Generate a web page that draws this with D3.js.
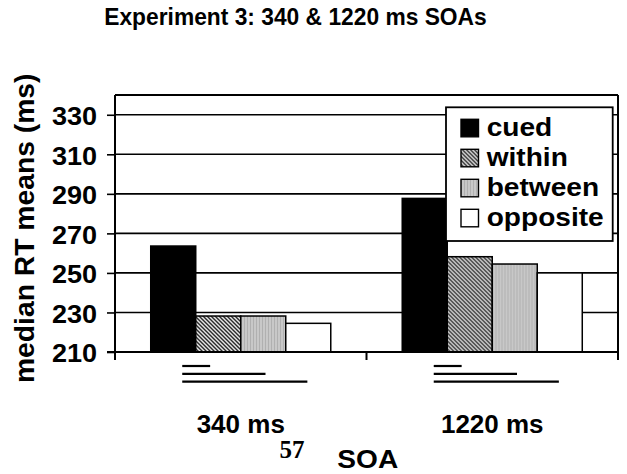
<!DOCTYPE html>
<html>
<head>
<meta charset="utf-8">
<script src="https://cdn.jsdelivr.net/npm/d3@7"></script>
<style>
  html, body { margin: 0; padding: 0; background: #fff; }
  svg { display: block; }
  text { font-family: "Liberation Sans", Arial, sans-serif; font-weight: bold; fill: #000; }
</style>
</head>
<body>
<svg id="chart" width="627" height="474"></svg>
<script>
// ---- data ----
const categories = ["340 ms", "1220 ms"];
const seriesNames = ["cued", "within", "between", "opposite"];
const cued     = [263.6, 287.7];
const within   = [228.2, 258.2];
const between  = [228.2, 254.5];
const opposite = [224.5, 250.0];
const yTicks = [210, 230, 250, 270, 290, 310, 330];
const comparisons = [["cued", "within"], ["cued", "between"], ["cued", "opposite"]];
const titleText = "Experiment 3: 340 & 1220 ms SOAs";
const yTitle = "median RT means (ms)";
const xTitle = "SOA";
const pageNumber = "57";

const valuesBySeries = { cued, within, between, opposite };
const rows = categories.map((c, i) => ({
  category: c,
  values: seriesNames.map(s => ({ series: s, value: valuesBySeries[s][i] }))
}));

// ---- layout ----
const svg = d3.select("#chart");
const L = 115, R = 618, T = 95, B = 352;

const x = d3.scaleBand().domain(categories).range([L, R]).paddingInner(0).paddingOuter(0);
const xs = d3.scaleBand().domain(seriesNames).range([0, x.bandwidth()]).paddingInner(0).paddingOuter(0.794);
const y = d3.scaleLinear().domain([210, 340]).range([B, T]);

function stretch(sel, f) {
  sel.each(function () {
    const w = this.getComputedTextLength();
    d3.select(this).attr("textLength", w * f).attr("lengthAdjust", "spacingAndGlyphs");
  });
}

// patterns
const defs = svg.append("defs");
const pw = defs.append("pattern").attr("id", "pWithin").attr("patternUnits", "userSpaceOnUse")
  .attr("width", 4).attr("height", 4);
pw.append("rect").attr("width", 4).attr("height", 4).attr("fill", "#e6e6e6");
pw.append("path").attr("d", "M-1,-1 L5,5 M-1,3 L1,5 M3,-1 L5,1").attr("stroke", "#2a2a2a").attr("stroke-width", 1.4);
const pb = defs.append("pattern").attr("id", "pBetween").attr("patternUnits", "userSpaceOnUse")
  .attr("width", 3).attr("height", 3);
pb.append("rect").attr("width", 3).attr("height", 3).attr("fill", "#c8c8c8");
pb.append("rect").attr("x", 0).attr("width", 1).attr("height", 3).attr("fill", "#b0b0b0");

const fills = { cued: "#000", within: "url(#pWithin)", between: "url(#pBetween)", opposite: "#fff" };

// title
svg.append("text").attr("x", 295.5).attr("y", 25).attr("text-anchor", "middle")
  .attr("font-size", 24.5).text(titleText).call(stretch, 0.93);

// gridlines
svg.append("g").selectAll("line").data(yTicks.slice(1)).join("line")
  .attr("x1", L).attr("x2", R).attr("y1", d => y(d)).attr("y2", d => y(d))
  .attr("stroke", "#000").attr("stroke-width", 1.6);

// y axis
const yAxis = svg.append("g").attr("transform", `translate(${L},0)`)
  .call(d3.axisLeft(y).tickValues(yTicks).tickSize(8).tickPadding(10).tickFormat(d3.format("d")));
yAxis.select(".domain").remove();
yAxis.selectAll(".tick line").attr("stroke", "#000").attr("stroke-width", 1.6);
yAxis.selectAll(".tick text").attr("font-size", 26).attr("font-family", "Liberation Sans, Arial, sans-serif")
  .attr("font-weight", "bold").attr("fill", "#000").attr("dy", "0.38em").call(stretch, 1.04);

// bars
const groups = svg.append("g").selectAll("g").data(rows).join("g")
  .attr("transform", d => `translate(${x(d.category)},0)`);
groups.selectAll("rect").data(d => d.values).join("rect")
  .attr("x", d => xs(d.series)).attr("width", xs.bandwidth())
  .attr("y", d => y(d.value)).attr("height", d => B - y(d.value))
  .attr("fill", d => fills[d.series]).attr("stroke", "#000").attr("stroke-width", 1.5);

// comparison lines under bars
const endFrac = { within: 0.32, between: 0.55, opposite: 0.48 };
groups.selectAll("line.cmp").data(comparisons).join("line").attr("class", "cmp")
  .attr("x1", d => xs(d[0]) + 0.7 * xs.bandwidth())
  .attr("x2", d => xs(d[1]) + endFrac[d[1]] * xs.bandwidth())
  .attr("y1", (d, i) => 366 + i * 7.8).attr("y2", (d, i) => 366 + i * 7.8)
  .attr("stroke", "#000").attr("stroke-width", 2.2);

// frame: top, left & right
svg.append("line").attr("x1", L).attr("x2", R).attr("y1", T).attr("y2", T).attr("stroke", "#000").attr("stroke-width", 2);
svg.append("line").attr("x1", R).attr("x2", R).attr("y1", T).attr("y2", B + 8).attr("stroke", "#000").attr("stroke-width", 2);
svg.append("line").attr("x1", L).attr("x2", L).attr("y1", T).attr("y2", B + 8).attr("stroke", "#000").attr("stroke-width", 2);

// x axis
const xAxis = svg.append("g").attr("transform", `translate(0,${B})`)
  .call(d3.axisBottom(x).tickSize(0).tickPadding(62));
xAxis.select(".domain").attr("stroke", "#000").attr("stroke-width", 2).attr("d", `M${L - 8},0H${R}`);
xAxis.selectAll(".tick text").attr("font-size", 26).attr("font-family", "Liberation Sans, Arial, sans-serif")
  .attr("font-weight", "bold").attr("fill", "#000").attr("dy", "0").attr("y", 81);
// category boundary ticks
const bounds = [L, ...categories.slice(1).map(c => x(c)), R];
svg.append("g").selectAll("line").data(bounds).join("line")
  .attr("x1", d => d).attr("x2", d => d).attr("y1", B).attr("y2", B + 8)
  .attr("stroke", "#000").attr("stroke-width", 2);

// axis titles
svg.append("text").attr("transform", "translate(34,228.3) rotate(-90)").attr("text-anchor", "middle")
  .attr("font-size", 28).text(yTitle).call(stretch, 1.01);
svg.append("text").attr("x", 367.8).attr("y", 468).attr("text-anchor", "middle")
  .attr("font-size", 26).text(xTitle).call(stretch, 1.08);
svg.append("text").attr("x", 292).attr("y", 457.5).attr("text-anchor", "middle")
  .attr("font-size", 25).attr("font-weight", "normal")
  .style("font-family", "'Liberation Serif', 'Times New Roman', serif").text(pageNumber);

// legend
const lg = svg.append("g").attr("transform", "translate(446,107.3)");
lg.append("rect").attr("width", 166.7).attr("height", 133.7).attr("fill", "#fff")
  .attr("stroke", "#000").attr("stroke-width", 1.8);
const li = lg.selectAll("g").data(seriesNames).join("g")
  .attr("transform", (d, i) => `translate(0,${12 + i * 30})`);
li.append("rect").attr("x", 15).attr("width", 17.5).attr("height", 17.5)
  .attr("fill", d => fills[d]).attr("stroke", "#000").attr("stroke-width", 1.4);
li.append("text").attr("x", 40.7).attr("y", 16.5).attr("font-size", 26).text(d => d).call(stretch, 1.08);
</script>
</body>
</html>
